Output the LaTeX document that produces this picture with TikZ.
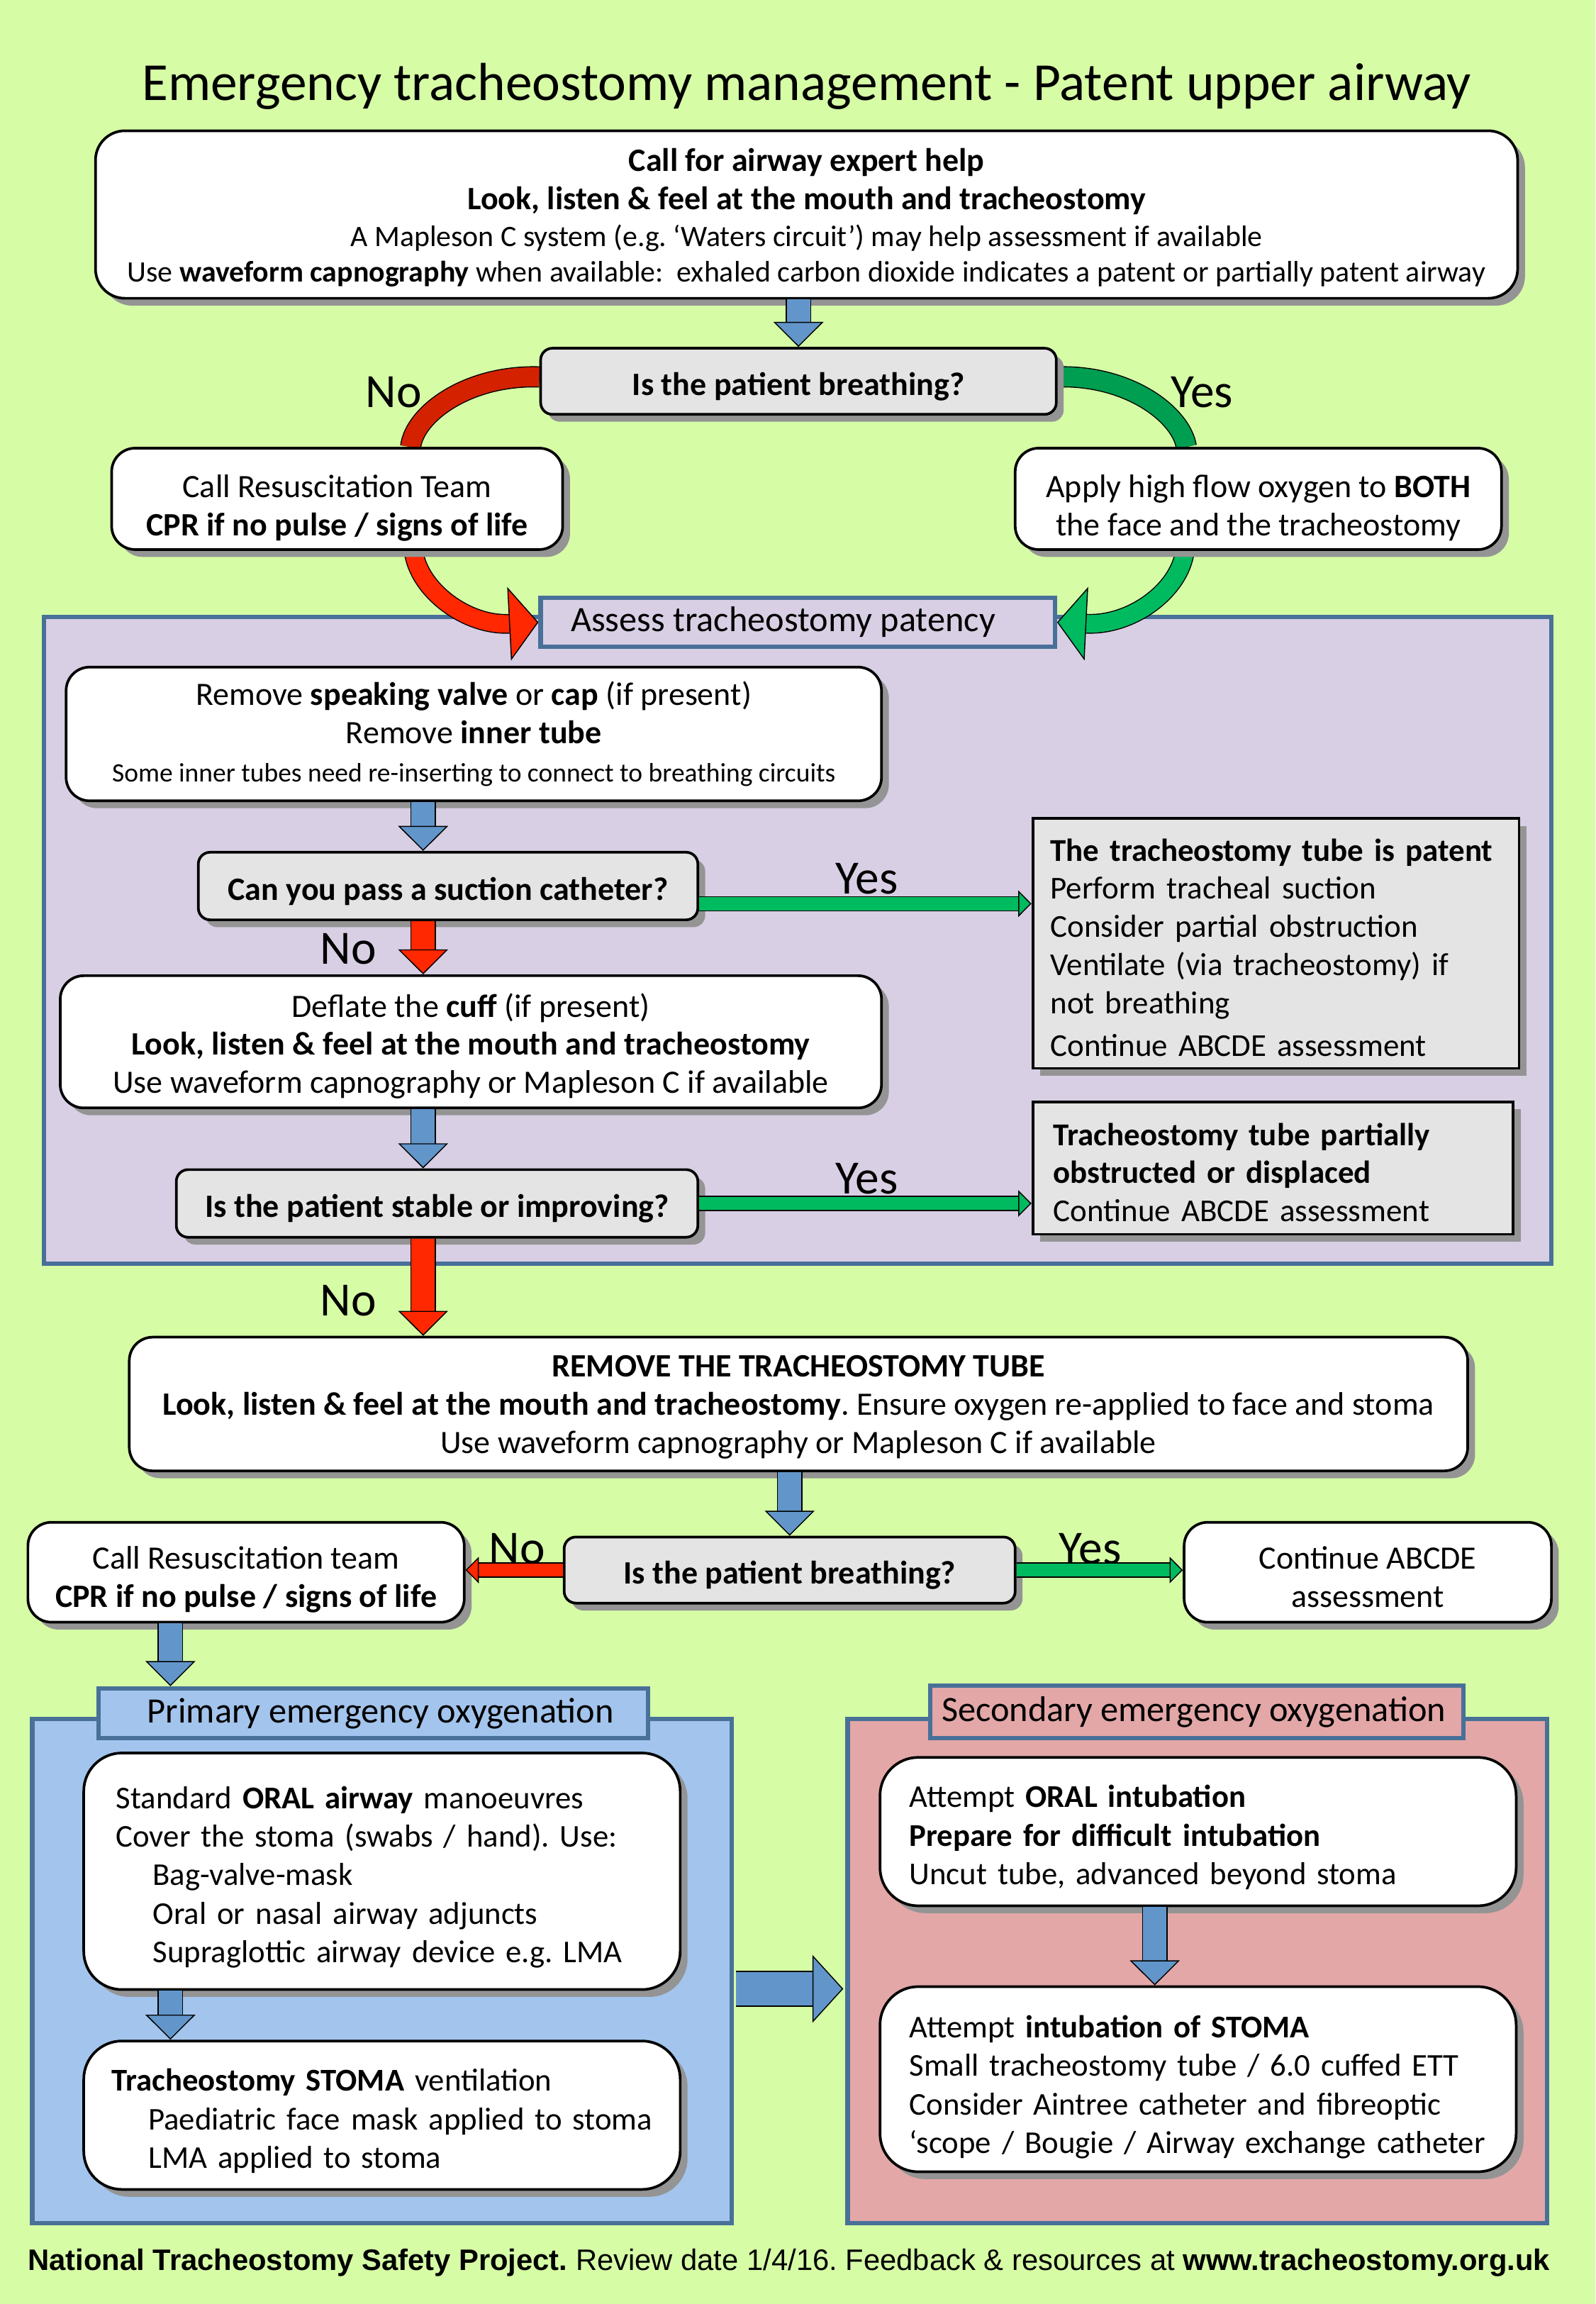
\documentclass[tikz,border=0pt]{standalone}
\usepackage{fontspec}
\setmainfont{Carlito}
\newfontfamily\arialfont{Liberation Sans}
\usetikzlibrary{positioning,shadows,arrows.meta}

\definecolor{bggreen}{RGB}{214,252,166}
\definecolor{panelblue}{RGB}{72,112,152}
\definecolor{lavender}{RGB}{216,207,228}
\definecolor{qgrey}{RGB}{228,228,228}
\definecolor{arrowblue}{RGB}{98,150,202}
\definecolor{arrowred}{RGB}{255,40,0}
\definecolor{darkred}{RGB}{212,34,0}
\definecolor{arrowgreen}{RGB}{0,186,96}
\definecolor{darkgreen}{RGB}{0,158,80}
\definecolor{primfill}{RGB}{163,196,236}
\definecolor{secfill}{RGB}{227,167,167}

\newcommand{\bodyfont}{\fontsize{22.2}{26}\selectfont}
\newcommand{\helpfont}{\fontsize{20.2}{25}\selectfont}
\newcommand{\notefont}{\fontsize{21.7}{26}\selectfont}
\newcommand{\listfont}{\fontsize{21.6}{26.2}\selectfont}
\newcommand{\smallbody}{\fontsize{18.1}{26}\selectfont}
\newcommand{\tabfont}{\fontsize{24.3}{28}\selectfont}
\newcommand{\titlefont}{\fontsize{36.4}{42}\selectfont}
\newcommand{\answerfont}{\fontsize{32.5}{36}\selectfont}
% taller first line, pushes a block of lines down in its box
\newcommand{\toprule}[1]{\rule{0pt}{#1}}

\pgfdeclarelayer{bottom}
\pgfdeclarelayer{back}
\pgfsetlayers{bottom,back,main}

\tikzset{
  boxshadow/.style={drop shadow={shadow xshift=5pt, shadow yshift=-5pt, fill=black!42, opacity=1}},
  nudge/.style={execute at begin node={\rule{0pt}{#1}}},
  whitebox/.style={draw, line width=1.8pt, fill=white, rounded corners=16pt,
    align=center, inner sep=0pt, boxshadow},
  questbox/.style={whitebox, fill=qgrey, rounded corners=8pt, font=\bodyfont\bfseries, nudge=23pt},
  notebox/.style={draw, line width=1.8pt, fill=qgrey, align=left, inner xsep=#1,
    inner ysep=0pt, boxshadow, font=\notefont, nudge=21pt},
  listbox/.style={whitebox, rounded corners=26pt, align=left, inner xsep=#1, font=\listfont, nudge=23pt},
  panel/.style={draw=panelblue, line width=3pt, inner sep=0pt},
  tabbox/.style={panel, font=\tabfont},
  answer/.style={font=\answerfont, inner sep=0pt},
  % block arrows: outlined shaft with a filled head
  vflow/.style={draw=black, line width=0.7pt, double=#1, double distance=16pt,
    -{Triangle[width=34pt, length=17pt, fill=#1, color=black, line width=0.7pt]}},
  hflow/.style={draw=black, line width=0.7pt, double=#1, double distance=9pt,
    -{Triangle[width=18pt, length=9pt, fill=#1, color=black, line width=0.7pt]}},
  curve/.style={draw=black, line width=0.7pt, double=#1, double distance=12pt},
  curvehead/.style={curve=#1,
    -{Triangle[width=50pt, length=20pt, fill=#1, color=black, line width=0.7pt]}}
}

\begin{document}
\frenchspacing
\begin{tikzpicture}[x=1pt, y=-1pt, font=\bodyfont]
\useasboundingbox (0,0) rectangle (1086,1568);

% Background and panels
\begin{pgfonlayer}{bottom}
\fill[bggreen] (0,0) rectangle (1086,1568);
\node[panel, fill=lavender, minimum width=1026, minimum height=440] (assesspanel) at (543,640) {};
\node[panel, fill=primfill, minimum width=476, minimum height=343] (primpanel) at (260,1341.5) {};
\node[panel, fill=secfill, minimum width=476, minimum height=343] (secpanel) at (815,1341.5) {};
\end{pgfonlayer}

\node[font=\titlefont] (title) at (549,59) {Emergency tracheostomy management - Patent upper airway};

% First assessment
\node[whitebox, rounded corners=20pt, minimum width=968, minimum height=114] (help) at (549,146)
  {\toprule{20pt}\textbf{Call for airway expert help}\\
   \textbf{Look, listen \& feel at the mouth and tracheostomy}\\[-1pt]
   {\helpfont A Mapleson C system (e.g. ‘Waters circuit’) may help assessment if available}\\[-2pt]
   {\helpfont Use \textbf{waveform capnography} when available:\ \ exhaled carbon dioxide indicates a patent or partially patent airway}};

\node[questbox, minimum width=351, minimum height=45] (breath1) at (543.5,259.5) {Is the patient breathing?};
\node[whitebox, minimum width=307, minimum height=69] (call1) at (229.5,339.5)
  {\toprule{28pt}Call Resuscitation Team\\ \textbf{CPR if no pulse / signs of life}};
\node[whitebox, minimum width=331, minimum height=69] (apply) at (856.5,339.5)
  {\toprule{28pt}Apply high flow oxygen to \textbf{BOTH}\\ the face and the tracheostomy};
\node[answer] (no1) at (268,267) {No};
\node[answer] (yes1) at (818,267) {Yes};

\node[tabbox, fill=lavender, minimum width=350, minimum height=33] (assess) at (543,423.5)
  {Assess tracheostomy patency\hspace*{20pt}};

% Patency checks
\coordinate (colA) at (288,0);
\node[whitebox, minimum width=555, minimum height=91] (valve) at (322.5,499.5)
  {Remove \textbf{speaking valve} or \textbf{cap} (if present)\\
   Remove \textbf{inner tube}\\
   {\smallbody Some inner tubes need re-inserting to connect to breathing circuits}};
\node[questbox, minimum width=340, minimum height=46] (suction) at (305,603) {Can you pass a suction catheter?};
\node[notebox=12pt, text width=307, minimum height=170] (patent) at (868.5,642)
  {\textbf{The tracheostomy tube is patent}\\
   Perform tracheal suction\\
   Consider partial obstruction\\
   Ventilate (via tracheostomy) if\\
   not breathing\\[3pt]
   Continue ABCDE assessment};
\node[whitebox, minimum width=559, minimum height=90] (deflate) at (320.5,709)
  {\toprule{22pt}Deflate the \textbf{cuff} (if present)\\
   \textbf{Look, listen \& feel at the mouth and tracheostomy}\\
   Use waveform capnography or Mapleson C if available};
\node[questbox, minimum width=355, minimum height=46] (stable) at (297.5,819) {Is the patient stable or improving?};
\node[notebox=14pt, text width=299, minimum height=90] (partial) at (866.5,795)
  {\textbf{Tracheostomy tube partially}\\
   \textbf{obstructed or displaced}\\
   Continue ABCDE assessment};
\node[answer] (yes2) at (590,598) {Yes};
\node[answer] (no2) at (237,646) {No};
\node[answer] (yes3) at (590,802) {Yes};
\node[answer] (no3) at (237,885) {No};

% Tube removal
\node[whitebox, minimum width=911, minimum height=91] (remove) at (543.5,955.5)
  {\toprule{19pt}\textbf{REMOVE THE TRACHEOSTOMY TUBE}\\
   \textbf{Look, listen \& feel at the mouth and tracheostomy}. Ensure oxygen re-applied to face and stoma\\
   Use waveform capnography or Mapleson C if available};
\node[questbox, minimum width=307, minimum height=45] (breath2) at (537.5,1068.5) {Is the patient breathing?};
\node[whitebox, minimum width=297, minimum height=68] (call2) at (167.5,1070)
  {\toprule{25pt}Call Resuscitation team\\ \textbf{CPR if no pulse / signs of life}};
\node[whitebox, minimum width=250, minimum height=68] (continue) at (931,1070)
  {\toprule{22pt}Continue ABCDE\\ assessment};
\node[answer] (no4) at (352,1054) {No};
\node[answer] (yes4) at (742,1054) {Yes};

% Emergency oxygenation
\coordinate (colB) at (116,0);
\coordinate (colD) at (786,0);
\node[tabbox, fill=primfill, minimum width=374, minimum height=34] (primtab) at (254,1166)
  {\hspace*{10pt}Primary emergency oxygenation};
\node[tabbox, fill=secfill, minimum width=363, minimum height=36] (sectab) at (814.5,1165)
  {Secondary emergency oxygenation\hspace*{4pt}};
\node[listbox=22pt, text width=362, minimum height=161] (prim1) at (260,1273.5)
  {Standard \textbf{ORAL airway} manoeuvres\\
   Cover the stoma (swabs / hand). Use:\\
   \hspace*{25pt}Bag-valve-mask\\
   \hspace*{25pt}Oral or nasal airway adjuncts\\
   \hspace*{25pt}Supraglottic airway device e.g. LMA};
\node[listbox=16pt, text width=374, minimum height=101] (prim2) at (260,1439.5)
  {\hspace*{3pt}\textbf{Tracheostomy STOMA} ventilation\\
   \hspace*{28pt}Paediatric face mask applied to stoma\\
   \hspace*{28pt}LMA applied to stoma};
\node[listbox=20pt, text width=393, minimum height=101] (sec1) at (815.5,1246.5)
  {Attempt \textbf{ORAL intubation}\\
   \textbf{Prepare for difficult intubation}\\
   Uncut tube, advanced beyond stoma};
\node[listbox=17pt, text width=399, minimum height=126] (sec2) at (815.5,1415)
  {\toprule{26pt}\hspace*{3pt}Attempt \textbf{intubation of STOMA}\\
   \hspace*{3pt}Small tracheostomy tube / 6.0 cuffed ETT\\
   \hspace*{3pt}Consider Aintree catheter and fibreoptic\\
   \hspace*{3pt}‘scope / Bougie / Airway exchange catheter};

\node[font=\arialfont\fontsize{20.15}{24}\selectfont] (footer) at (537,1540)
  {\textbf{National Tracheostomy Safety Project.} Review date 1/4/16. Feedback \& resources at \textbf{www.tracheostomy.org.uk}};

% Curved answers round the first question
\begin{pgfonlayer}{back}
\draw[curve=darkred, double distance=13pt] ([yshift=3pt]breath1.west) .. controls (318,255) and (282,282) .. ([xshift=50pt]call1.north);
\draw[curvehead=arrowred] ([xshift=52pt]call1.south) .. controls (285,402) and (318,426) .. (assess.west);
\draw[curve=darkgreen, double distance=13pt] ([yshift=3pt]breath1.east) .. controls (768,255) and (804,282) .. ([xshift=-49pt]apply.north);
\draw[curvehead=arrowgreen] ([xshift=-50pt]apply.south) .. controls (803,402) and (770,426) .. (assess.east);
\end{pgfonlayer}

% Straight arrows
\draw[vflow=arrowblue] (help.south -| breath1.north) -- (breath1.north);
\draw[vflow=arrowblue] (valve.south -| colA) -- (suction.north -| colA);
\draw[vflow=arrowred] (suction.south -| colA) -- (deflate.north -| colA);
\draw[vflow=arrowblue] (deflate.south -| colA) -- (stable.north -| colA);
\draw[vflow=arrowred] (stable.south -| colA) -- (remove.north -| colA);
\coordinate (yesout1) at ([yshift=-12pt]suction.east);
\draw[hflow=arrowgreen] (yesout1) -- (yesout1 -| patent.west);
\draw[hflow=arrowgreen] (stable.east) -- (stable.east -| partial.west);
\draw[vflow=arrowblue] (remove.south -| breath2.north) -- (breath2.north);
\draw[hflow=arrowred] (breath2.west) -- (breath2.west -| call2.east);
\draw[hflow=arrowgreen] (breath2.east) -- (breath2.east -| continue.west);
\draw[vflow=arrowblue] (call2.south -| colB) -- (primtab.north -| colB);
\draw[vflow=arrowblue] (prim1.south -| colB) -- (prim2.north -| colB);
\draw[vflow=arrowblue] (sec1.south -| colD) -- (sec2.north -| colD);
\coordinate (cross) at ([yshift=-12pt,xshift=1.5pt]primpanel.east);
\draw[draw=black, line width=0.7pt, double=arrowblue, double distance=23pt,
  -{Triangle[width=46pt, length=21pt, fill=arrowblue, color=black, line width=0.7pt]}]
  (cross) -- ([xshift=-1.5pt]cross -| secpanel.west);
\end{tikzpicture}
\end{document}
